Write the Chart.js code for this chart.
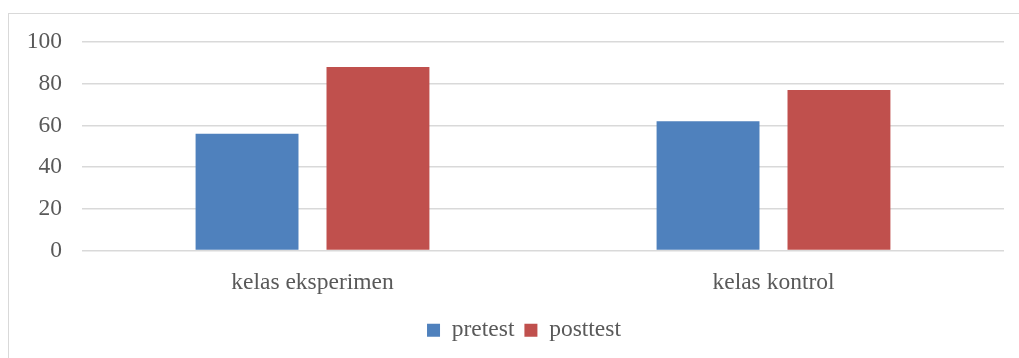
<!DOCTYPE html>
<html>
<head>
<meta charset="utf-8">
<script src="https://cdn.jsdelivr.net/npm/chart.js@4"></script>
<style>
  html, body { margin: 0; padding: 0; background: #fff; overflow: hidden; }
  #frame { position: absolute; left: 8px; top: 13px; width: 1030px; height: 360px; border: 1px solid #d9d9d9; }
  #wrap { position: absolute; left: 0; top: 0; width: 1019px; height: 358px; }
</style>
</head>
<body>
<div id="frame"></div>
<div id="wrap"><canvas id="chart" width="1019" height="358"></canvas></div>
<script>
  // values
  const categories = ["kelas eksperimen", "kelas kontrol"];
  const pretest    = [56, 62];
  const posttest   = [88, 77];
  const yTicks     = [0, 20, 40, 60, 80, 100];

  const FONT = "'Liberation Serif', 'Times New Roman', serif";
  const TEXT = "#595959";
  const GRID = "#d9d9d9";

  // the legend sits a little right of centre in the original
  const nudgeLegend = {
    id: "nudgeLegend",
    afterLayout(chart) {
      if (chart.legend) { chart.legend.left += 10; chart.legend.right += 10; }
    }
  };

  new Chart(document.getElementById("chart"), {
    type: "bar",
    data: {
      labels: categories,
      datasets: [
        { label: "pretest",  data: pretest,  backgroundColor: "#4f81bd", borderWidth: 0 },
        { label: "posttest", data: posttest, backgroundColor: "#c0504d", borderWidth: 0 }
      ]
    },
    options: {
      responsive: false,
      animation: false,
      datasets: { bar: { barPercentage: 0.786, categoryPercentage: 0.568 } },
      layout: { padding: { top: 42, left: 24, right: 15, bottom: 6 } },
      plugins: {
        tooltip: { enabled: false },
        legend: {
          position: "bottom",
          labels: {
            boxWidth: 13, boxHeight: 13, padding: 10,
            color: TEXT, font: { family: FONT, size: 23.5 }
          }
        }
      },
      scales: {
        x: {
          grid: { display: false },
          border: { display: false },
          ticks: { color: TEXT, padding: 10, font: { family: FONT, size: 23.5 } },
          afterFit(s) { s.height = 58; }
        },
        y: {
          min: yTicks[0], max: yTicks[yTicks.length - 1],
          afterBuildTicks(s) { s.ticks = yTicks.map(v => ({ value: v })); },
          grid: { color: GRID, lineWidth: 1.5, drawTicks: false },
          border: { display: false },
          ticks: { color: TEXT, padding: 20, font: { family: FONT, size: 23.5 } },
          afterFit(s) { s.width = 58; }
        }
      }
    },
    plugins: [nudgeLegend]
  });
</script>
</body>
</html>
